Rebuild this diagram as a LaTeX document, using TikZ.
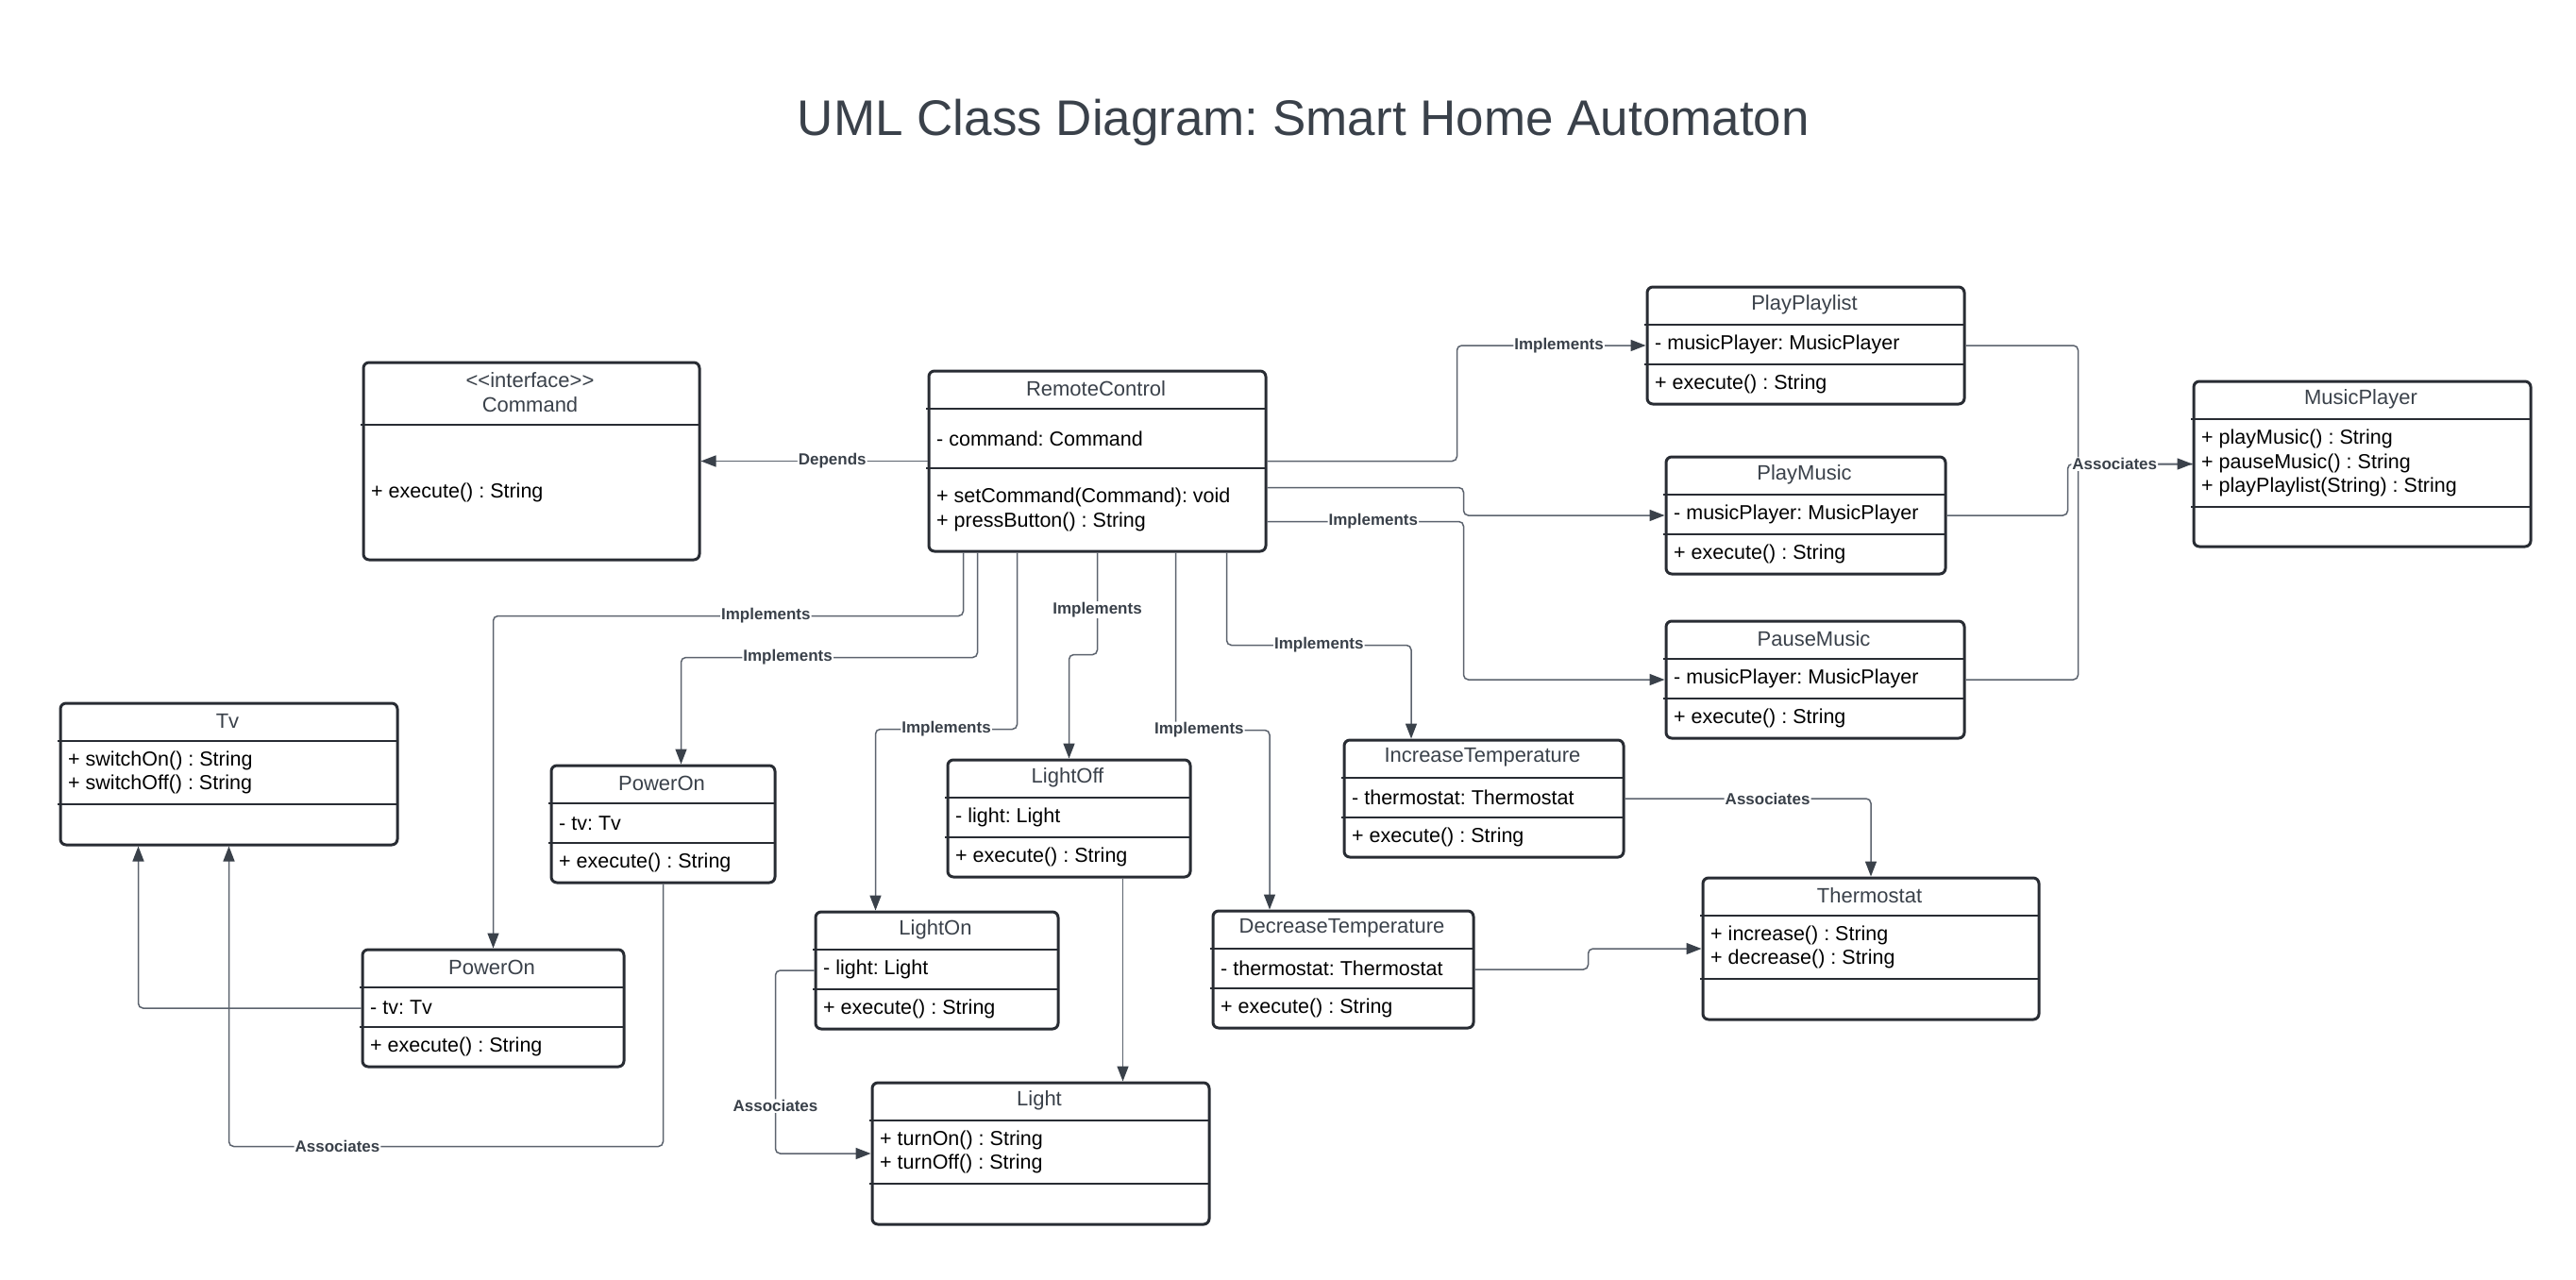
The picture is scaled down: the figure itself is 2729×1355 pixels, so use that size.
\documentclass[tikz,border=0pt]{standalone}
\usepackage{fontspec}
\setmainfont{Liberation Sans}
\usepackage{xcolor}
\usepackage{tikz}
\usetikzlibrary{arrows.meta, positioning}
\frenchspacing

\definecolor{ink}{HTML}{3A414A}
\definecolor{boxline}{HTML}{282C33}
\definecolor{wire}{HTML}{5C636E}

% one class: id, left, top, width, middle height, bottom height, name, middle text, bottom text
\newcommand{\umlclass}[9]{%
  \node[classbox, minimum width={#4pt-3pt}, minimum height={40pt+#5pt+#6pt}, anchor=north west] (#1) at ({#2+1.5},{#3+1.5}) {};
  \node[classname] (#1-name) at ({#2+#4/2},{#3+21.5}) {#7};
  \node[members] (#1-attr) at ({#2+11},{#3+43+#5/2}) {#8};
  \node[members] (#1-ops) at ({#2+11},{#3+43+#5+#6/2}) {#9};
  \draw[divider] ({#2},{#3+43}) -- ({#2+#4},{#3+43});
  \draw[divider] ({#2},{#3+43+#5}) -- ({#2+#4},{#3+43+#5});
}

\begin{document}
\begin{tikzpicture}[
    x=1pt, y=-1pt,
    classbox/.style={rectangle, rounded corners=6pt, draw=boxline, line width=3pt, fill=white, inner sep=0pt},
    classname/.style={font=\fontsize{22}{26.7}\selectfont, text=ink, align=center, inner sep=0pt},
    members/.style={font=\fontsize{21.5}{25.7}\selectfont, align=left, inner sep=0pt, anchor=west},
    divider/.style={draw=boxline, line width=2.5pt},
    heading/.style={font=\fontsize{53}{60}\selectfont, text=ink, inner sep=0pt},
    link/.style={draw=wire, line width=1.5pt, rounded corners=5pt},
    arrow/.style={link, -{Triangle[length=16pt, width=12pt, color=ink]}},
    lbl/.style={font=\bfseries\fontsize{17}{20}\selectfont, text=ink, fill=white, inner sep=1pt}
]
\fill[white] (0,0) rectangle (2729,1355);
\useasboundingbox (0,0) rectangle (2729,1355);

\node[heading, anchor=base] (title) at (1381,143) {UML Class Diagram: Smart Home Automaton};

% interface
\node[classbox, minimum width=356pt, minimum height=209pt, anchor=north west] (cmd) at (383.5,382.5) {};
\node[classname] (cmd-name) at (561.5,415.5) {<\kern0pt<interface>\kern0pt>\\Command};
\node[members] (cmd-ops) at (393,521.5) {+ execute() : String};
\draw[divider] (382,450) -- (741,450);

% classes
\umlclass{rc}{981}{390}{360}{63}{88}{RemoteControl}{- command: Command}{+ setCommand(Command): void\\+ pressButton() : String}
\umlclass{ppl}{1742}{301}{339}{42}{42}{PlayPlaylist}{- musicPlayer: MusicPlayer}{+ execute() : String}
\umlclass{pm}{1762}{481}{299}{42}{42}{PlayMusic}{- musicPlayer: MusicPlayer}{+ execute() : String}
\umlclass{pse}{1762}{655}{319}{42}{42}{PauseMusic}{- musicPlayer: MusicPlayer}{+ execute() : String}
\umlclass{mp}{2321}{401}{360}{93}{42}{MusicPlayer}{+ playMusic() : String\\+ pauseMusic() : String\\+ playPlaylist(String) : String}{}
\umlclass{tv}{61}{742}{360}{67}{43}{Tv}{+ switchOn() : String\\+ switchOff() : String}{}
\umlclass{pwrA}{581}{808}{240}{42}{42}{PowerOn}{- tv: Tv}{+ execute() : String}
\umlclass{pwrB}{381}{1003}{280}{42}{42}{PowerOn}{- tv: Tv}{+ execute() : String}
\umlclass{loff}{1001}{802}{260}{42}{42}{LightOff}{- light: Light}{+ execute() : String}
\umlclass{lon}{861}{963}{260}{42}{42}{LightOn}{- light: Light}{+ execute() : String}
\umlclass{lt}{921}{1144}{360}{67}{43}{Light}{+ turnOn() : String\\+ turnOff() : String}{}
\umlclass{inc}{1421}{781}{299}{42}{42}{IncreaseTemperature}{- thermostat: Thermostat}{+ execute() : String}
\umlclass{dec}{1282}{962}{279}{42}{42}{DecreaseTemperature}{- thermostat: Thermostat}{+ execute() : String}
\umlclass{th}{1801}{927}{359}{67}{43}{Thermostat}{+ increase() : String\\+ decrease() : String}{}

% remote control links
\draw[arrow] (rc.west) -- node[lbl, pos=0.42] (lDep) {Depends} (cmd.east);
\draw[arrow] (rc.east) -- ++(201,0) |- node[lbl, pos=0.77] (lImp1) {Implements} (ppl.west);
\draw[arrow] ([yshift=-28pt]rc.east) -- ++(208,0) |- (pm.west);
\draw[arrow] ([yshift=-64pt]rc.east) -- node[lbl, pos=0.54] (lImp2) {Implements} ++(208,0) |- (pse.west);
\draw[arrow] ([xshift=-142pt]rc.south) -- ++(0,67) -| node[lbl, pos=0.21] (lImp3) {Implements} (pwrB.north);
\draw[arrow] ([xshift=-127pt]rc.south) -- ++(0,111) -| node[lbl, pos=0.32] (lImp4) {Implements} ([xshift=19pt]pwrA.north);
\draw[arrow] ([xshift=-85pt]rc.south) -- ++(0,187) -| node[lbl, pos=0.25] (lImp5) {Implements} ([xshift=-65pt]lon.north);
\draw[arrow] (rc.south) -- node[lbl, pos=0.56] (lImp6) {Implements} ++(0,108) -| (loff.north);
\draw[arrow] ([xshift=83pt]rc.south) -- ++(0,188) -| node[lbl, pos=0.125] (lImp7) {Implements} ([xshift=-78pt]dec.north);
\draw[arrow] ([xshift=137pt]rc.south) -- ++(0,98) -| node[lbl, pos=0.25] (lImp8) {Implements} ([xshift=-77pt]inc.north);

% associations
\draw[link] (pm.east) -- ++(128,0) |- (mp.west);
\draw[link] (pse.east) -- ++(119,0) |- (mp.west);
\draw[arrow] (ppl.east) -- ++(119,0) |- node[lbl, pos=0.66] (lAsc1) {Associates} (mp.west);
\draw[arrow] (pwrB.west) -| ([xshift=-96pt]tv.south);
\draw[arrow] (pwrA.south) -- ++(0,278) -| node[lbl, pos=0.375] (lAsc2) {Associates} (tv.south);
\draw[arrow] ([xshift=57pt]loff.south) -- ([xshift=87pt]lt.north);
\draw[arrow] (lon.west) -- ++(-41,0) |- node[lbl, pos=0.37] (lAsc3) {Associates} (lt.west);
\draw[arrow] (inc.east) -| node[lbl, pos=0.29] (lAsc4) {Associates} (th.north);
\draw[arrow] (dec.east) -- ++(120,0) |- (th.west);
\end{tikzpicture}
\end{document}
